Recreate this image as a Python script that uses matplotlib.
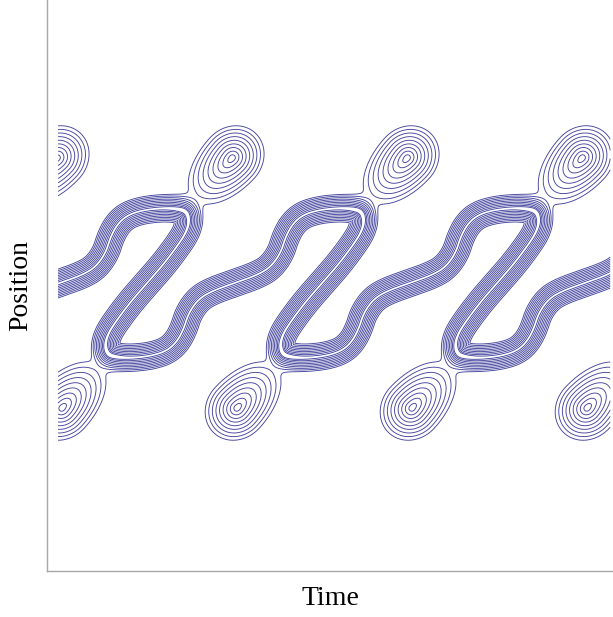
import numpy as np
import matplotlib.pyplot as plt

# time in periods, position in arbitrary units (positive = up)
t_start, t_end = 0.0, 3.155
p_low, p_high = -2.30, 2.26
x_lim = (-0.063, 3.171)
y_lim = (-2.304, 2.264)

# crest of the zig-zag ridge for one period, time measured from the chain centre
ridge_dt = [-0.726, -0.680, -0.594, -0.480, -0.389, -0.331, -0.291, -0.263, -0.206, -0.129, 0.0,
            0.129, 0.206, 0.263, 0.291, 0.331, 0.389, 0.480, 0.594, 0.680, 0.726,
            0.740, 0.726, 0.690, 0.600, 0.500, 0.400, 0.310, 0.274, 0.260]
ridge_p = [-0.568, -0.592, -0.600, -0.584, -0.544, -0.472, -0.368, -0.240, -0.128, -0.064, 0.0,
           0.064, 0.128, 0.240, 0.368, 0.472, 0.544, 0.584, 0.600, 0.592, 0.568,
           0.496, 0.416, 0.330, 0.160, 0.0, -0.160, -0.330, -0.416, -0.496]
chain_t0 = 0.009
periods = list(range(-2, 5))

# isolated bumps beyond the fold tips (egg shaped, longer towards the saddle)
blob_dt = [-0.014, 0.014]
blob_p = [1.0, -1.0]
blob_h = [1.0, 1.0]
blob_angle = [47.4, 47.4]
blob_side = [-1, 1]
blob_s_near = [28.0, 28.0]
blob_s_far = [17.0, 17.0]
blob_s_perp = [15.0, 15.0]

ridge_sigma = 6.8
level_z = np.linspace(0.2, 2.0, 9)

sx, sy = 175.0, 125.0
t = np.linspace(t_start, t_end, 800)
p = np.linspace(p_low, p_high, 640)
T, P = np.meshgrid(t, p)
X, Y = T * sx, P * sy

# crest polyline over all periods, corners rounded by corner cutting
cx_ = np.concatenate([(chain_t0 + k + np.array(ridge_dt)) * sx for k in periods])
cy_ = np.tile(np.array(ridge_p) * sy, len(periods))
for _ in range(3):
    cx_ = np.column_stack([0.75 * cx_[:-1] + 0.25 * cx_[1:], 0.25 * cx_[:-1] + 0.75 * cx_[1:]]).ravel()
    cy_ = np.column_stack([0.75 * cy_[:-1] + 0.25 * cy_[1:], 0.25 * cy_[:-1] + 0.75 * cy_[1:]]).ravel()

d = np.full(X.shape, np.inf)
for i in range(len(cx_) - 1):
    x0, y0 = cx_[i], cy_[i]
    vx, vy = cx_[i + 1] - x0, cy_[i + 1] - y0
    u = np.clip(((X - x0) * vx + (Y - y0) * vy) / (vx * vx + vy * vy), 0, 1)
    d = np.minimum(d, np.hypot(X - x0 - u * vx, Y - y0 - u * vy))
rho = np.exp(-0.5 * (d / ridge_sigma) ** 2)

for k in periods:
    for i in range(len(blob_dt)):
        bx, by = (chain_t0 + k + blob_dt[i]) * sx, blob_p[i] * sy
        c, s = np.cos(np.radians(blob_angle[i])), np.sin(np.radians(blob_angle[i]))
        u = (X - bx) * c + (Y - by) * s
        v = -(X - bx) * s + (Y - by) * c
        su = np.where(u * blob_side[i] > 0, blob_s_near[i], blob_s_far[i])
        rho += blob_h[i] * np.exp(-0.5 * ((u / su) ** 2 + (v / blob_s_perp[i]) ** 2))

levels = np.sort(np.exp(-0.5 * level_z ** 2))

fig = plt.figure(figsize=(6.13, 6.17), dpi=100)
ax = fig.add_axes([47 / 613, 46 / 617, 566 / 613, 571 / 617])
ax.contour(T, P, rho, levels=levels, colors='#45459f', linewidths=0.65)

ax.set_xlim(*x_lim)
ax.set_ylim(*y_lim)
ax.set_xticks([])
ax.set_yticks([])
for side in ['top', 'right']:
    ax.spines[side].set_visible(False)
for side in ['left', 'bottom']:
    ax.spines[side].set_color('#a8a8a8')
    ax.spines[side].set_linewidth(1.0)

ax.set_xlabel('Time', fontsize=20, family='Liberation Serif', labelpad=11)
ax.set_ylabel('Position', fontsize=20, family='Liberation Serif', labelpad=10)

fig.savefig('out.png', dpi=100)
